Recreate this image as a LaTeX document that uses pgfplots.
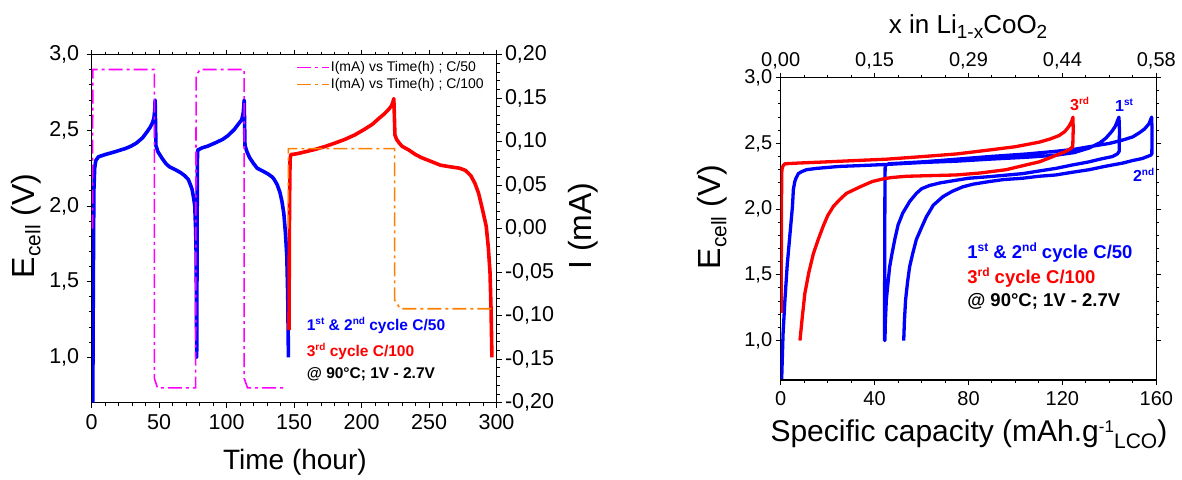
\documentclass[border=0pt]{standalone}
\usepackage{fontspec}
\setmainfont{Liberation Sans}
\usepackage{pgfplots}
\pgfplotsset{compat=1.18}
\definecolor{cblue}{RGB}{0,0,255}
\definecolor{cred}{RGB}{255,0,0}
\definecolor{pinkmag}{RGB}{255,0,255}
\definecolor{corange}{RGB}{255,128,0}
\newcommand\fs[1]{\fontsize{#1}{#1}\selectfont}
\newcommand\up[3]{\raisebox{#1}{\fontsize{#2}{#2}\selectfont #3}}
\tikzset{ddot/.style={line width=1.6pt, dash pattern=on 14pt off 4pt on 3pt off 4pt}}
\begin{document}
\begin{tikzpicture}
\useasboundingbox (0,0) rectangle (1182pt,479pt);
\pgfplotsset{common/.style={scale only axis, anchor=south west, tick align=outside,
  major tick length=5pt, minor tick length=3pt,
  axis line style={line width=1.2pt}, every tick/.style={black, line width=1pt},
  /pgf/number format/assume math mode=true},
  mylegend/.style={legend style={draw=none, fill=none, at={(axis description cs:0.505,#1)}, anchor=north west,
    font=\fs{14}, inner sep=0pt, nodes={inner sep=1pt, text height=10pt, text depth=3pt}},
    legend cell align=left,
    legend image code/.code={\draw[##1] (0pt,0pt) -- (32pt,0pt);}}}

% ---------------- left panel: voltage ----------------
\begin{axis}[common, mylegend=0.985, at={(91.7pt,76.3pt)}, width=404.8pt, height=348pt,
  xmin=0, xmax=300, ymin=0.7, ymax=3.0,
  xtick={0,50,...,300}, ytick={1.0,1.5,2.0,2.5,3.0},
  minor x tick num=4, minor y tick num=4, ytick pos=left,
  yticklabel style={xshift=-4pt, /pgf/number format/.cd, fixed, fixed zerofill, precision=1, use comma},
  xticklabel style={yshift=-3pt},
  ticklabel style={font=\fs{21.5}},
  xlabel={Time (hour)},
  xlabel style={font=\fs{28}, at={(axis description cs:0.502,-0.193)}, anchor=base},
  ylabel={E\up{-6pt}{21}{cell} (V)},
  ylabel style={font=\fs{32}, at={(axis description cs:-0.162,0.508)}, anchor=center},
]
\addlegendimage{color=pinkmag, ddot}
\addlegendentry{I(mA) vs Time(h) ; C/50}
\addplot[cblue, line width=3.6pt, line join=round, forget plot] coordinates {
(0.8,0.7) (1.2,1.5) (1.6,2.1) (2.2,2.25) (3,2.3) (5,2.325) (10,2.34) (17.8,2.36) (25,2.38) (29,2.395) (33,2.415) (37.6,2.45) (41,2.49) (43.3,2.52) (45,2.55) (46.1,2.58) (46.7,2.63) (47,2.70) (47.3,2.55) (47.6,2.40) (49,2.36) (51.8,2.32) (55,2.28) (57.5,2.26) (62,2.24) (66,2.22) (69,2.20) (71.6,2.175) (73.2,2.14) (74.4,2.11) (75.6,2.05) (76.4,2.0) (77.0,1.85) (77.3,1.75) (77.6,1.4) (77.8,1.0)
(78.0,1.5) (78.3,2.30) (78.6,2.37) (82,2.385) (85.8,2.395) (91,2.415) (97,2.44) (101,2.465) (105.6,2.505) (109,2.545) (111.2,2.57) (112.4,2.62) (113,2.70) (113.3,2.55) (113.6,2.40) (115,2.36) (117,2.32) (120,2.28) (122.6,2.25) (127,2.23) (131,2.21) (134,2.19) (135.3,2.175) (137.5,2.14) (139.5,2.09) (141,2.03) (142.4,1.95) (143.6,1.82) (144.6,1.67) (145.3,1.4) (145.8,1.0)
};
\addplot[cred, line width=3.6pt, line join=round, forget plot] coordinates {
(146.2,1.18) (146.6,2.0) (147.0,2.30) (147.5,2.34) (152,2.345) (159,2.36) (166,2.375) (173.5,2.395) (180,2.415) (187.6,2.44) (195,2.47) (201.8,2.505) (208,2.54) (213,2.58) (217,2.61) (220.2,2.64) (222,2.66) (223,2.68) (223.9,2.71) (224.3,2.60) (224.7,2.47) (226,2.44) (228,2.415) (230,2.395) (235,2.37) (240,2.34) (244.3,2.32) (250,2.30) (258.4,2.27) (265,2.26) (272.6,2.25) (277,2.235) (281,2.2) (284,2.15) (286.7,2.085) (289,2.0) (290.8,1.93) (292.4,1.865) (293.9,1.73) (295.2,1.56) (296,1.3) (296.6,1.0)
};
\node[anchor=base west, inner sep=0, font=\bfseries\fs{15.5}, text=cblue] at (axis cs:159.3,1.174) {1\up{6pt}{10}{st} \& 2\up{6pt}{10}{nd} cycle C/50};
\node[anchor=base west, inner sep=0, font=\bfseries\fs{15.5}, text=cred] at (axis cs:159.3,1.004) {3\up{6pt}{10}{rd} cycle C/100};
\node[anchor=base west, inner sep=0, font=\bfseries\fs{15.5}, text=black] at (axis cs:159.3,0.857) {@ 90°C; 1V - 2.7V};
\end{axis}

% ---------------- left panel: current ----------------
\begin{axis}[common, mylegend=0.9361, at={(91.7pt,76.3pt)}, width=404.8pt, height=348pt,
  xmin=0, xmax=300, ymin=-0.2, ymax=0.2, hide x axis,
  ytick={-0.2,-0.15,-0.1,-0.05,0,0.05,0.1,0.15,0.2}, minor y tick num=4,
  ytick pos=right, yticklabel pos=right,
  yticklabel style={font=\fs{21.5}, /pgf/number format/.cd, fixed, fixed zerofill, precision=2, use comma},
  ylabel={I (mA)},
  ylabel style={font=\fs{32}, at={(axis description cs:1.214,0.508)}, anchor=center},
]
\addlegendimage{color=corange, ddot}
\addlegendentry{I(mA) vs Time(h) ; C/100}
\addplot[color=pinkmag, ddot, forget plot] coordinates {
(0.6,0) (0.8,0.183) (46.4,0.183) (46.4,-0.172) (48.8,-0.183) (77.0,-0.183) (77.4,0.176) (80.3,0.183) (113.0,0.183) (113.0,-0.172) (115.5,-0.183) (143.8,-0.183)
};
\addplot[color=corange, ddot, forget plot] coordinates {
(145.8,0) (145.8,0.092) (224.5,0.092) (224.5,-0.082) (228.7,-0.092) (296.6,-0.092)
};
\end{axis}

% ---------------- right panel ----------------
\begin{axis}[common, at={(780.7pt,99pt)}, width=375.6pt, height=302.3pt,
  xmin=0, xmax=160, ymin=0.7, ymax=3.0,
  xtick={0,40,...,160}, ytick={1.0,1.5,2.0,2.5,3.0},
  minor x tick num=3, minor y tick num=4, xtick pos=bottom, ytick pos=both,
  yticklabel style={/pgf/number format/.cd, fixed, fixed zerofill, precision=1, use comma},
  xticklabel style={yshift=-3pt},
  ticklabel style={font=\fs{20}},
  xlabel={Specific capacity (mAh.g\up{9pt}{17}{-1}\up{-7pt}{21}{LCO})},
  xlabel style={font=\fs{30}, at={(axis description cs:0.501,-0.204)}, anchor=base},
  ylabel={E\up{-6pt}{21}{cell} (V)},
  ylabel style={font=\fs{32}, at={(axis description cs:-0.183,0.539)}, anchor=center},
]
\addplot[cblue, line width=3.3pt, line join=round] coordinates {
(0.4,0.7) (1.0,1.05) (1.8,1.31) (2.8,1.58) (4.0,1.82) (5.0,2.02) (5.4,2.15) (6.0,2.21) (6.5,2.235) (7.5,2.27) (8.9,2.285) (11,2.30) (15.3,2.31) (25,2.325) (32.3,2.33) (45,2.34) (60.6,2.355) (75,2.365) (88.9,2.38) (105,2.395) (117.2,2.41) (125,2.43) (131.4,2.465) (136,2.505) (138.5,2.54) (141,2.59) (142.5,2.63) (144.1,2.70)
(144.3,2.60) (144.2,2.44) (143.4,2.42) (141.3,2.40) (136,2.38) (131.4,2.36) (124,2.335) (117.2,2.31) (110,2.29) (103,2.27) (95,2.257) (88.9,2.247) (80,2.235) (74.8,2.22) (68,2.20) (63.4,2.18) (60,2.155) (57.8,2.12) (55,2.06) (52,1.97) (50,1.88) (48.6,1.77) (47.4,1.66) (46.4,1.56) (45.6,1.42) (45,1.31) (44.6,1.15) (44.4,1.0)
(44.2,1.0) (44.3,1.6) (44.4,2.2) (44.5,2.33) (46,2.345) (60.6,2.36) (75,2.38) (88.9,2.40) (105,2.42) (117.2,2.44) (125,2.455) (131.4,2.475) (140,2.50) (145.6,2.525) (150,2.55) (152.7,2.58) (155,2.61) (156.9,2.65) (158,2.70)
(158.2,2.60) (158.1,2.42) (157.6,2.41) (154,2.385) (150,2.37) (145.6,2.35) (138,2.325) (131.4,2.30) (124,2.28) (117.2,2.26) (110,2.25) (103,2.235) (95,2.225) (88.9,2.21) (82,2.19) (77.6,2.17) (73,2.135) (69.1,2.095) (65,2.03) (62,1.94) (60,1.86) (57.8,1.77) (56.2,1.66) (54.9,1.56) (54,1.44) (53.2,1.31) (52.7,1.15) (52.4,1.0)
};
\addplot[cred, line width=3.3pt, line join=round] coordinates {
(0.2,1.21) (0.3,1.8) (0.4,2.2) (0.5,2.3) (1.0,2.33) (1.8,2.345) (6.8,2.35) (20,2.36) (32.3,2.37) (45,2.38) (60.6,2.40) (75,2.42) (88.9,2.45) (100,2.475) (110.2,2.51) (115,2.535) (118.6,2.56) (121,2.59) (122.8,2.63) (124,2.67) (124.5,2.70)
(124.6,2.60) (124.4,2.475) (123,2.455) (121.5,2.44) (116,2.40) (110.2,2.36) (103,2.33) (96,2.30) (85,2.275) (74.8,2.26) (64,2.255) (53.5,2.25) (47,2.24) (43.6,2.23) (39,2.21) (35.1,2.18) (31.5,2.15) (28,2.12) (25,2.07) (22.4,2.02) (20,1.95) (18.1,1.87) (16,1.77) (13.9,1.66) (12,1.52) (10.3,1.36) (9.2,1.18) (8.2,1.0)
};
\node[anchor=base west, inner sep=0, font=\bfseries\fs{16}, text=cred] at (axis cs:123.2,2.754) {3\up{6pt}{10}{rd}};
\node[anchor=base west, inner sep=0, font=\bfseries\fs{16}, text=cblue] at (axis cs:142.4,2.741) {1\up{6pt}{10}{st}};
\node[anchor=base west, inner sep=0, font=\bfseries\fs{16}, text=cblue] at (axis cs:150.0,2.209) {2\up{6pt}{10}{nd}};
\node[anchor=base west, inner sep=0, font=\bfseries\fs{18.5}, text=cblue] at (axis cs:79.4,1.627) {1\up{7pt}{12}{st} \& 2\up{7pt}{12}{nd} cycle C/50};
\node[anchor=base west, inner sep=0, font=\bfseries\fs{18.5}, text=cred] at (axis cs:79.4,1.437) {3\up{7pt}{12}{rd} cycle C/100};
\node[anchor=base west, inner sep=0, font=\bfseries\fs{18.5}, text=black] at (axis cs:79.4,1.259) {@ 90°C; 1V - 2.7V};
\end{axis}

% ---------------- right panel: top axis ----------------
\begin{axis}[common, at={(780.7pt,99pt)}, width=375.6pt, height=302.3pt,
  xmin=0, xmax=160, ymin=0.7, ymax=3.0, hide y axis,
  xtick={0,40,...,160}, xticklabels={{0,00},{0,15},{0,29},{0,44},{0,58}},
  minor x tick num=3, xtick pos=top, xticklabel pos=top,
  ticklabel style={font=\fs{20}},
  xlabel={x in Li\up{-5pt}{19}{1-x}CoO\up{-5pt}{19}{2}},
  xlabel style={font=\fs{26}, at={(axis description cs:0.499,1.147)}, anchor=base},
]
\end{axis}
\end{tikzpicture}
\end{document}
